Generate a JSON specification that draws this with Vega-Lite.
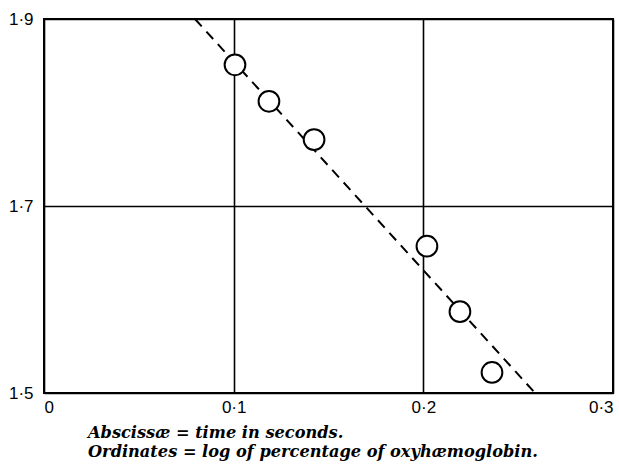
{
  "$schema": "https://vega.github.io/schema/vega-lite/v6.json",
  "autosize": "none",
  "width": 569,
  "height": 374,
  "padding": {"left": 44, "top": 19, "right": 6, "bottom": 75},
  "background": "white",
  "config": {
    "view": {"stroke": "black", "strokeWidth": 2}
  },
  "title": {
    "text": ["Abscissæ = time in seconds.", "Ordinates = log of percentage of oxyhæmoglobin."],
    "orient": "bottom",
    "anchor": "start",
    "frame": "group",
    "baseline": "top",
    "dx": 44,
    "offset": 10,
    "font": "DejaVu Serif",
    "fontStyle": "italic",
    "fontWeight": "bold",
    "fontSize": 16.2,
    "lineHeight": 18.5,
    "color": "black"
  },
  "datasets": {
    "points": [
      {"t": 0.1007, "logp": 1.851},
      {"t": 0.1186, "logp": 1.812},
      {"t": 0.1424, "logp": 1.771},
      {"t": 0.2019, "logp": 1.657},
      {"t": 0.2193, "logp": 1.587},
      {"t": 0.2362, "logp": 1.522}
    ],
    "fit": [
      {"t": 0.0796, "logp": 1.9},
      {"t": 0.2589, "logp": 1.5}
    ]
  },
  "layer": [
    {
      "data": {"name": "fit"},
      "mark": {"type": "line", "color": "black", "strokeWidth": 2, "strokeDash": [10, 7]},
      "encoding": {
        "x": {
          "field": "t", "type": "quantitative",
          "scale": {"domain": [0, 0.3], "nice": false, "zero": false},
          "axis": {"values": [0, 0.1, 0.2, 0.3], "labelPadding": 6, "title": null,
                   "grid": true, "gridColor": "black", "gridOpacity": 1, "gridWidth": 1.6,
                   "domain": false, "ticks": false, "labelColor": "black",
                   "labelFont": "Liberation Sans", "labelFontSize": 17,
                   "labelExpr": "datum.value == 0 ? '0' : replace(format(datum.value, '.1f'), '.', '·')"}
        },
        "y": {
          "field": "logp", "type": "quantitative",
          "scale": {"domain": [1.5, 1.9], "nice": false, "zero": false},
          "axis": {"values": [1.5, 1.7, 1.9], "labelPadding": 11, "title": null,
                   "grid": true, "gridColor": "black", "gridOpacity": 1, "gridWidth": 1.6,
                   "domain": false, "ticks": false, "labelColor": "black",
                   "labelFont": "Liberation Sans", "labelFontSize": 17,
                   "labelExpr": "replace(format(datum.value, '.1f'), '.', '·')"}
        }
      }
    },
    {
      "data": {"name": "points"},
      "mark": {"type": "point", "shape": "circle", "filled": false, "fill": "white", "fillOpacity": 1, "stroke": "black", "strokeWidth": 2, "size": 430, "opacity": 1},
      "encoding": {
        "x": {"field": "t", "type": "quantitative"},
        "y": {"field": "logp", "type": "quantitative"}
      }
    }
  ]
}
